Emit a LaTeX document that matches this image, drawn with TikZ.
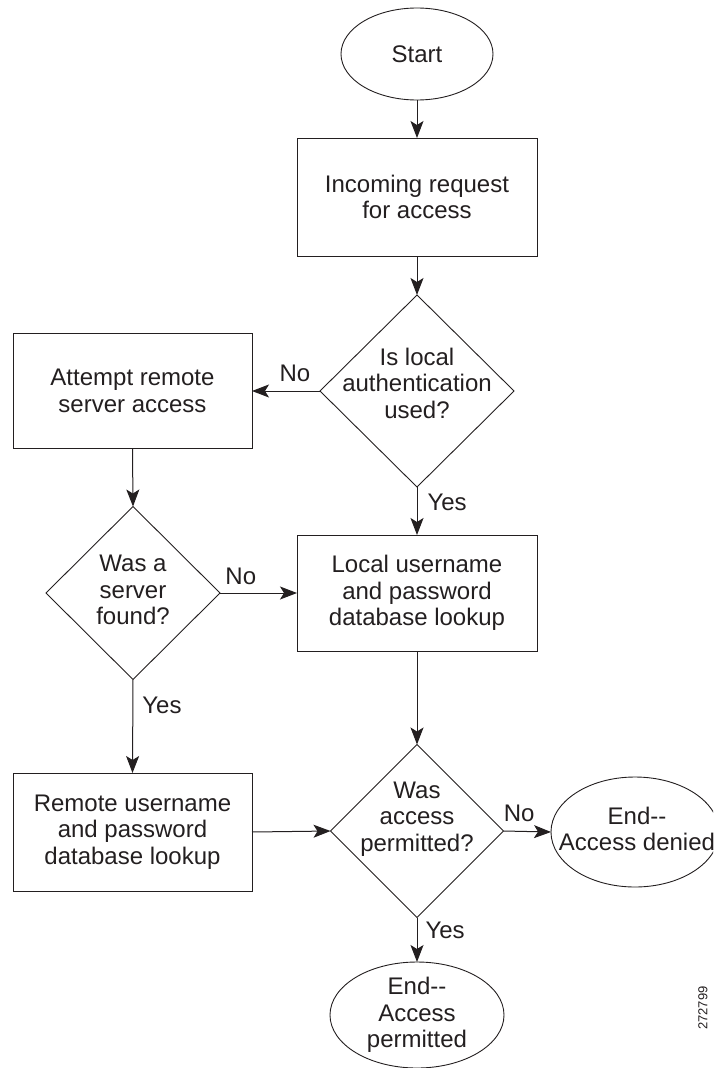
\documentclass[tikz,border=0pt]{standalone}
\usepackage{fontspec}
\setmainfont{Liberation Sans}
\usetikzlibrary{shapes.geometric,arrows.meta}
\definecolor{ink}{HTML}{231F20}
\tikzset{
  base/.style={draw=ink, line width=0.9pt, inner sep=0pt, outer sep=0pt, text=ink},
  txt/.style={align=center, font=\fontsize{24}{26.5}\selectfont, inner sep=0pt, text=ink},
  procbox/.style={base, txt, rectangle, minimum width=240pt, minimum height=116pt},
  decision/.style={base, diamond},
  terminal/.style={base, ellipse},
  arr/.style={draw=ink, line width=1pt, -{Stealth[length=17pt,width=13pt,inset=4pt]}},
  lbl/.style={font=\fontsize{24}{26.5}\selectfont, inner sep=0pt, text=ink}
}
\begin{document}
\begin{tikzpicture}[x=1pt,y=-1pt]
\useasboundingbox (0,0) rectangle (713,1068);
\clip (0,0) rectangle (713,1068);

\node[terminal, minimum width=152pt, minimum height=92pt,
      label={[txt]center:Start}] (start) at (417,54) {};
\node[procbox, minimum height=118pt] (incoming) at (417,197) {Incoming request\\for access};
\node[decision, minimum width=194pt, minimum height=192pt,
      label={[txt, yshift=8pt]center:Is local\\authentication\\used?}] (d1) at (417,391) {};
\node[procbox, minimum width=239pt, minimum height=115pt] (attempt) at (132.5,391) {Attempt remote\\server access};
\node[decision, minimum width=174pt, minimum height=173pt,
      label={[txt, yshift=3pt]center:Was a\\server\\found?}] (d2) at (133,593) {};
\node[procbox] (local) at (417,593) {Local username\\and password\\database lookup};
\node[decision, minimum width=173pt, minimum height=173pt,
      label={[txt, yshift=12pt]center:Was\\access\\permitted?}] (d3) at (417,831) {};
\node[procbox, minimum width=239pt, minimum height=118pt] (remote) at (132.5,832) {Remote username\\and password\\database lookup};
\node[terminal, minimum width=168pt, minimum height=110pt,
      label={[txt, yshift=3pt, xshift=2pt]center:End-{}-\\Access denied}] (denied) at (635,832) {};
\node[terminal, minimum width=174pt, minimum height=106pt,
      label={[txt]center:End-{}-\\Access\\permitted}] (permitted) at (417,1015) {};
\node[rotate=90, font=\fontsize{13}{15}\selectfont, inner sep=0pt, text=ink] (figid) at (703,1008) {272799};

\draw[arr] (start) -- (incoming);
\draw[arr] (incoming) -- (d1);
\draw[arr] (d1.west) -- node[lbl, pos=0.37, above=9pt]{No} (attempt.east);
\draw[arr] (d1.south) -- node[lbl, pos=0.31, right=10pt]{Yes} (local.north);
\draw[arr] (attempt.south) -- (d2.north);
\draw[arr] (d2.east) -- node[lbl, pos=0.27, above=8pt]{No} (local.west);
\draw[arr] (d2.south) -- node[lbl, pos=0.28, right=9pt]{Yes} (remote.north);
\draw[arr] (local.south) -- (d3.north);
\draw[arr] (remote.east) -- (d3.west);
\draw[arr] (d3.east) -- node[lbl, pos=0.33, above=9pt]{No} (denied.west);
\draw[arr] (d3.south) -- node[lbl, pos=0.29, right=8pt]{Yes} (permitted.north);
\end{tikzpicture}
\end{document}
